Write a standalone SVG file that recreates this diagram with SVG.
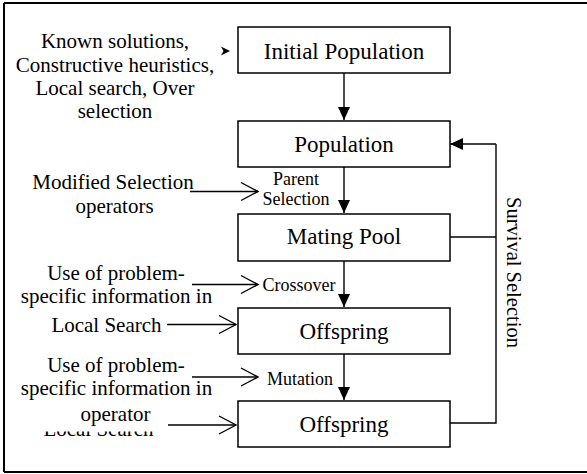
<svg xmlns="http://www.w3.org/2000/svg" width="587" height="474" viewBox="0 0 587 474">
<style>
.box{fill:#fff;stroke:#000;stroke-width:1.5}
.lbl{font-family:"Liberation Serif","Times New Roman",serif;font-size:23px;text-anchor:middle;fill:#000}
.side{font-family:"Liberation Serif","Times New Roman",serif;font-size:21px;text-anchor:middle;fill:#000}
.op{font-family:"Liberation Serif","Times New Roman",serif;font-size:18px;text-anchor:middle;fill:#000}
.ln{fill:none;stroke:#000;stroke-width:1.4}
.fa{marker-end:url(#fill)}
.oa{marker-end:url(#open)}
</style>
<defs>
<marker id="fill" markerUnits="userSpaceOnUse" markerWidth="13" markerHeight="12" refX="13" refY="6" orient="auto" overflow="visible">
<path d="M0,0 L13,6 L0,12 z" fill="#000"/>
</marker>
<marker id="open" markerUnits="userSpaceOnUse" markerWidth="18" markerHeight="20" refX="17" refY="9" orient="auto" overflow="visible">
<path d="M0,0 L17,9 L0,18" fill="none" stroke="#000" stroke-width="1.4"/>
</marker>
<clipPath id="cut"><rect x="0" y="431.5" width="220" height="20"/></clipPath>
</defs>
<rect width="587" height="474" fill="#fff"/>
<g id="frame" fill="none" stroke="#000" stroke-width="2">
<path d="M4,3 H587 M4,472 H587 M4,3 V472"/>
</g>
<g id="connectors">
<path class="ln fa" d="M344,73 V120"/>
<path class="ln fa" d="M344,167 V213"/>
<path class="ln fa" d="M344,261 V307"/>
<path class="ln fa" d="M344,354 V400"/>
<path class="ln" d="M450,423 H496 V144"/>
<path class="ln" d="M450,237 H496"/>
<path class="ln fa" d="M496,144 H450"/>
<path d="M221,46.5 L230,51 L221,55.5 L223.5,51 z" fill="#000"/>
<path class="ln oa" d="M190,191.5 H258"/>
<path class="ln oa" d="M192,284.5 H258"/>
<path class="ln oa" d="M167,324.5 H236"/>
<path class="ln oa" d="M192,377 H258"/>
<path class="ln oa" d="M168,425 H236"/>
</g>
<g id="initial-population">
<rect class="box" x="238" y="27" width="212" height="46"/>
<text class="lbl" x="344" y="58.5">Initial Population</text>
</g>
<g id="population">
<rect class="box" x="238" y="121" width="212" height="46"/>
<text class="lbl" x="344" y="152">Population</text>
</g>
<g id="mating-pool">
<rect class="box" x="238" y="214" width="212" height="47"/>
<text class="lbl" x="344" y="244">Mating Pool</text>
</g>
<g id="offspring-1">
<rect class="box" x="238" y="308" width="212" height="46"/>
<text class="lbl" x="344" y="338.5">Offspring</text>
</g>
<g id="offspring-2">
<rect class="box" x="238" y="401" width="212" height="46"/>
<text class="lbl" x="344" y="432">Offspring</text>
</g>
<g id="init-methods">
<text class="side" x="115" y="48">Known solutions,</text>
<text class="side" x="115" y="71.5">Constructive heuristics,</text>
<text class="side" x="115" y="95">Local search, Over</text>
<text class="side" x="115" y="118">selection</text>
</g>
<g id="selection-ops">
<text class="side" x="113" y="189">Modified Selection</text>
<text class="side" x="114.5" y="213">operators</text>
</g>
<g id="crossover-info">
<text class="side" x="116" y="280">Use of problem-</text>
<text class="side" x="116.5" y="303">specific information in</text>
</g>
<g id="local-search-1">
<text class="side" x="106.5" y="332">Local Search</text>
</g>
<g id="mutation-info">
<text class="side" x="116" y="372">Use of problem-</text>
<text class="side" x="116.5" y="395">specific information in</text>
<text class="side" x="115.5" y="421">operator</text>
</g>
<g id="local-search-2" clip-path="url(#cut)">
<text class="side" x="98.5" y="436">Local Search</text>
</g>
<g id="operator-labels">
<text class="op" x="296" y="185">Parent</text>
<text class="op" x="296" y="204.5">Selection</text>
<text class="op" x="299" y="291">Crossover</text>
<text class="op" x="300" y="384.5">Mutation</text>
</g>
<g id="survival-selection">
<text x="0" y="0" transform="translate(507,197) rotate(90)" style="font-family:'Liberation Serif','Times New Roman',serif;font-size:20.5px;fill:#000">Survival Selection</text>
</g>
</svg>
